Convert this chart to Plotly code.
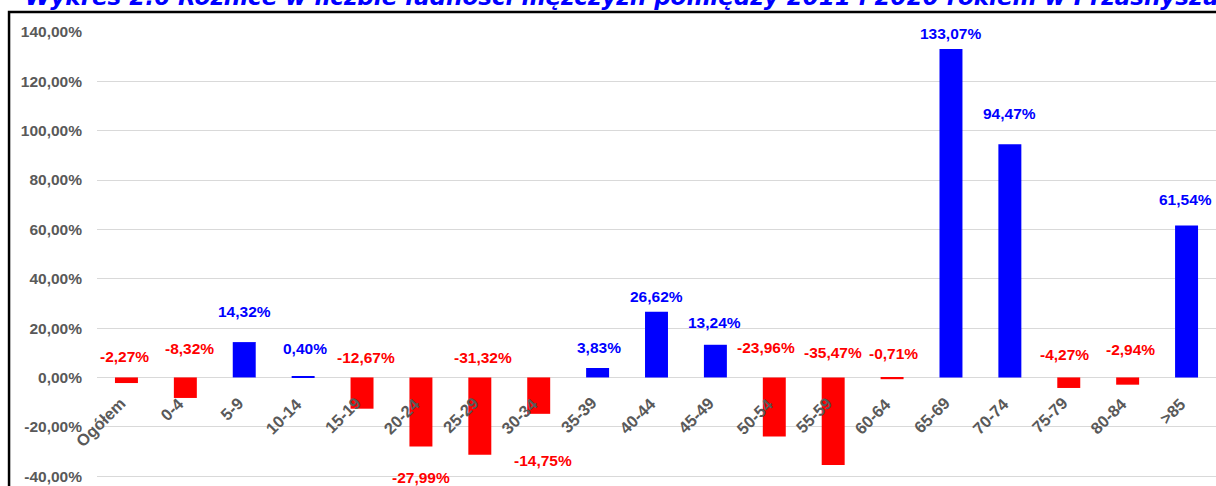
import plotly.graph_objects as go

# ---- data ----
categories = ["Ogółem", "0-4", "5-9", "10-14", "15-19", "20-24", "25-29", "30-34",
              "35-39", "40-44", "45-49", "50-54", "55-59", "60-64", "65-69",
              "70-74", "75-79", "80-84", ">85"]
values = [-2.27, -8.32, 14.32, 0.40, -12.67, -27.99, -31.32, -14.75,
          3.83, 26.62, 13.24, -23.96, -35.47, -0.71, 133.07,
          94.47, -4.27, -2.94, 61.54]
tick_vals = [-40, -20, 0, 20, 40, 60, 80, 100, 120, 140]
title_text = "Wykres 2.6 Różnice w liczbie ludności mężczyzn pomiędzy 2011 i 2020 rokiem w Przasnyszu"

# ---- label placement (pixel offsets from bar end, layout only) ----
label_dy = [27, 49, 31, 28, 51, -31, 97, -47, 20, 15, 22, 89, 112, 26, 16, 31, 33, 35, 26]
label_dx = [-2, 4, 0, 2, 4, 0, 3, 4, 1, 0, -1, -8, 0, 1, 0, 0, -4, 3, -1]

BLUE = "#0000FF"
RED = "#FF0000"
GRAY = "#595959"
FONT = "Liberation Sans, Arial, sans-serif"
TITLE_FONT = "DejaVu Sans, Verdana, sans-serif"


def pct(v):
    return f"{v:.2f}".replace(".", ",") + "%"


colors = [BLUE if v >= 0 else RED for v in values]

fig = go.Figure()
fig.add_trace(go.Bar(x=categories, y=values, marker=dict(color=colors, line=dict(width=0)),
                     showlegend=False, hoverinfo="x+y"))

annotations = []
for c, v, dy, dx, col in zip(categories, values, label_dy, label_dx, colors):
    annotations.append(dict(x=c, y=v, xref="x", yref="y", text=pct(v), showarrow=False,
                            xanchor="center", yanchor="middle", yshift=dy, xshift=dx,
                            font=dict(family=FONT, size=15.5, color=col, weight="bold")))
    annotations.append(dict(x=c, y=0, xref="x", yref="y", text=c, showarrow=False,
                            textangle=-45, xanchor="right", yanchor="top",
                            xshift=5, yshift=-14,
                            font=dict(family=FONT, size=16.5, color=GRAY, weight="bold")))

annotations.append(dict(x=-0.066, y=1.0441, xref="paper", yref="paper", text=title_text,
                        showarrow=False, xanchor="left", yanchor="bottom", yshift=0,
                        font=dict(family=TITLE_FONT, size=23, color=BLUE, weight="bold",
                                  style="italic")))

FRAME_X = -0.0786   # left border of the chart frame (paper units)
FRAME_Y = 1.0441    # top border of the chart frame (paper units)

fig.update_layout(
    width=1216, height=486,
    margin=dict(l=97, r=0, t=32, b=0, autoexpand=False),
    paper_bgcolor="white", plot_bgcolor="white",
    bargap=0.61,
    xaxis=dict(type="category", showticklabels=False, showgrid=False, showline=False,
               ticks="", zeroline=False, automargin=False,
               range=[-0.5, len(categories) - 0.5]),
    yaxis=dict(range=[-44, 140], tickvals=tick_vals, ticktext=[pct(t) for t in tick_vals],
               showgrid=True, gridcolor="#D9D9D9", gridwidth=1.3,
               zeroline=True, zerolinecolor="#D9D9D9", zerolinewidth=1.3,
               showline=False, ticks="", ticklabelstandoff=14, automargin=False,
               tickfont=dict(family=FONT, size=15.5, color=GRAY, weight="bold")),
    annotations=annotations,
    shapes=[
        dict(type="rect", xref="paper", yref="paper", layer="above",
             x0=FRAME_X, x1=1.05, y0=-0.1, y1=FRAME_Y,
             fillcolor="rgba(0,0,0,0)",
             line=dict(color="black", width=2.5)),
    ],
)

fig.write_html("out.html", config={"displayModeBar": False},
               post_script="document.body.style.margin='0';document.body.style.overflow='hidden';")
